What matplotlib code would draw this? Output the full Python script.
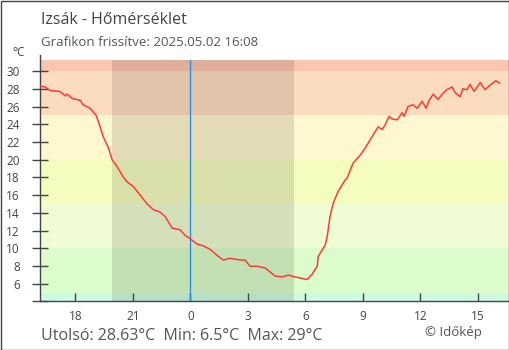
import numpy as np
import pandas as pd
import matplotlib
matplotlib.use("Agg")
import matplotlib.pyplot as plt
from matplotlib.patches import Rectangle

plt.rcParams['font.family'] = ['Open Sans', 'DejaVu Sans']

# temperature readings
times = ["05-01 16:10", "05-01 16:25", "05-01 16:41", "05-01 17:12", "05-01 17:28",
         "05-01 17:34", "05-01 17:50", "05-01 18:15", "05-01 18:24", "05-01 18:46",
         "05-01 19:05", "05-01 19:14", "05-01 19:27", "05-01 19:43", "05-01 19:55",
         "05-01 20:11", "05-01 20:29", "05-01 20:42", "05-01 21:01", "05-01 21:23",
         "05-01 21:45", "05-01 22:03", "05-01 22:25", "05-01 22:41", "05-01 23:03",
         "05-01 23:28", "05-01 23:43", "05-01 23:59", "05-02 00:21", "05-02 00:40",
         "05-02 01:02", "05-02 01:24", "05-02 01:43", "05-02 02:04", "05-02 02:35",
         "05-02 02:51", "05-02 03:07", "05-02 03:29", "05-02 03:54", "05-02 04:25",
         "05-02 04:47", "05-02 05:06", "05-02 05:28", "05-02 05:53", "05-02 06:05",
         "05-02 06:21", "05-02 06:37", "05-02 06:40", "05-02 06:52", "05-02 07:02",
         "05-02 07:08", "05-02 07:17", "05-02 07:27", "05-02 07:42", "05-02 08:04",
         "05-02 08:10", "05-02 08:20", "05-02 08:29", "05-02 08:51", "05-02 09:07",
         "05-02 09:22", "05-02 09:32", "05-02 09:48", "05-02 10:00", "05-02 10:09",
         "05-02 10:22", "05-02 10:31", "05-02 10:47", "05-02 11:03", "05-02 11:09",
         "05-02 11:21", "05-02 11:37", "05-02 11:50", "05-02 12:05", "05-02 12:18",
         "05-02 12:27", "05-02 12:40", "05-02 12:55", "05-02 13:11", "05-02 13:23",
         "05-02 13:39", "05-02 13:48", "05-02 14:04", "05-02 14:13", "05-02 14:26",
         "05-02 14:35", "05-02 14:48", "05-02 15:07", "05-02 15:22", "05-02 15:38",
         "05-02 15:56", "05-02 16:08"]
temps = [28.3, 28.2, 27.8, 27.7, 27.2, 27.4, 26.9, 26.7, 26.2, 25.8,
         25.0, 24.1, 22.6, 21.4, 20.0, 19.2, 18.1, 17.5, 17.0, 16.0,
         15.0, 14.4, 14.1, 13.6, 12.3, 12.1, 11.5, 11.1, 10.5, 10.3,
         9.9, 9.2, 8.7, 8.9, 8.7, 8.7, 8.0, 8.0, 7.8, 6.9,
         6.8, 7.0, 6.8, 6.6, 6.5, 7.1, 8.0, 9.1, 9.8, 10.4,
         11.3, 13.6, 15.1, 16.4, 17.7, 17.9, 18.8, 19.6, 20.5, 21.3,
         22.2, 22.8, 23.7, 23.4, 23.9, 24.9, 24.6, 24.5, 25.3, 24.9,
         26.0, 26.2, 25.8, 26.6, 25.8, 26.7, 27.4, 26.8, 27.5, 27.9,
         28.2, 27.6, 27.1, 28.0, 27.9, 28.5, 27.7, 28.7, 27.9, 28.4,
         28.9, 28.63]

# colour bands (degC) and colours
band_edges = [-50, 5, 10, 15, 20, 25, 30, 60]
band_colors = ["#ccfce0", "#dcfccc", "#effcd4", "#f5fcc0", "#fff7cf", "#fcdcbf", "#fcc5b0"]

sunset = "05-01 19:55"
sunrise = "05-02 05:25"

xtick_hours = [-6, -3, 0, 3, 6, 9, 12, 15]
xtick_labels = ["18", "21", "0", "3", "6", "9", "12", "15"]
yticks = [6, 8, 10, 12, 14, 16, 18, 20, 22, 24, 26, 28, 30]

midnight = pd.Timestamp("2025-05-02 00:00")


def to_hours(s):
    t = pd.Timestamp("2025-" + s)
    return (t - midnight) / pd.Timedelta(hours=1)


x = np.array([to_hours(s) for s in times])
y = np.array(temps)

fig = plt.figure(figsize=(5.1, 3.5), dpi=100)
ax = fig.add_axes([40.5 / 510, (350 - 300.5) / 350, (509 - 40.5) / 510, (300.5 - 60) / 350])
ax.set_xlim(-7.82, 16.62)
ax.set_ylim(4.14, 31.24)

for i in range(len(band_colors)):
    ax.axhspan(band_edges[i], band_edges[i + 1], color=band_colors[i], lw=0, zorder=0)

ax.axvspan(to_hours(sunset), to_hours(sunrise), color="black", alpha=0.11, lw=0, zorder=1)
ax.axvline(0, color="#2a8fe0", lw=1, zorder=2)

ax.plot(x, y, color="#ff3b30", lw=1.1, zorder=3)

grey = "#444444"
for side in ["top", "right"]:
    ax.spines[side].set_visible(False)
for side in ["left", "bottom"]:
    ax.spines[side].set_color(grey)
    ax.spines[side].set_linewidth(1)
ax.spines["left"].set_bounds(4.14, 31.8)
ax.spines["left"].set_clip_on(False)

ax.set_yticks(yticks + [4.14])
ax.set_yticklabels([str(v) for v in yticks] + [""])
ax.set_xticks(xtick_hours)
ax.set_xticklabels(xtick_labels)
ax.tick_params(axis="y", direction="inout", length=12, width=1, color=grey,
               labelcolor=grey, labelsize=8.5, pad=9)
ax.tick_params(axis="x", direction="in", length=6, width=1, color=grey,
               labelcolor=grey, labelsize=8.5, pad=7)

fig.text(41 / 510, 1 - 24 / 350, "Izsák - Hőmérséklet", fontsize=11.5, color=grey, va="baseline")
fig.text(41 / 510, 1 - 45.5 / 350, "Grafikon frissítve: 2025.05.02 16:08", fontsize=9.5,
         color="#555555", va="baseline")
fig.text(12 / 510, 1 - 56 / 350, "°C", fontsize=8.5, color=grey, va="baseline")
fig.text(41 / 510, 1 - 339.5 / 350, "Utolsó: 28.63°C  Min: 6.5°C  Max: 29°C", fontsize=11.5,
         color="#555555", va="baseline")
fig.text(482 / 510, 1 - 336 / 350, "© Időkép", fontsize=9.5, color="#555555", va="baseline",
         ha="right")

fig.patches.append(Rectangle((0.5 / 510, 0.5 / 350), 509 / 510, 349 / 350, transform=fig.transFigure,
                             fill=False, edgecolor=grey, lw=1))

fig.savefig("out.png", dpi=100)
